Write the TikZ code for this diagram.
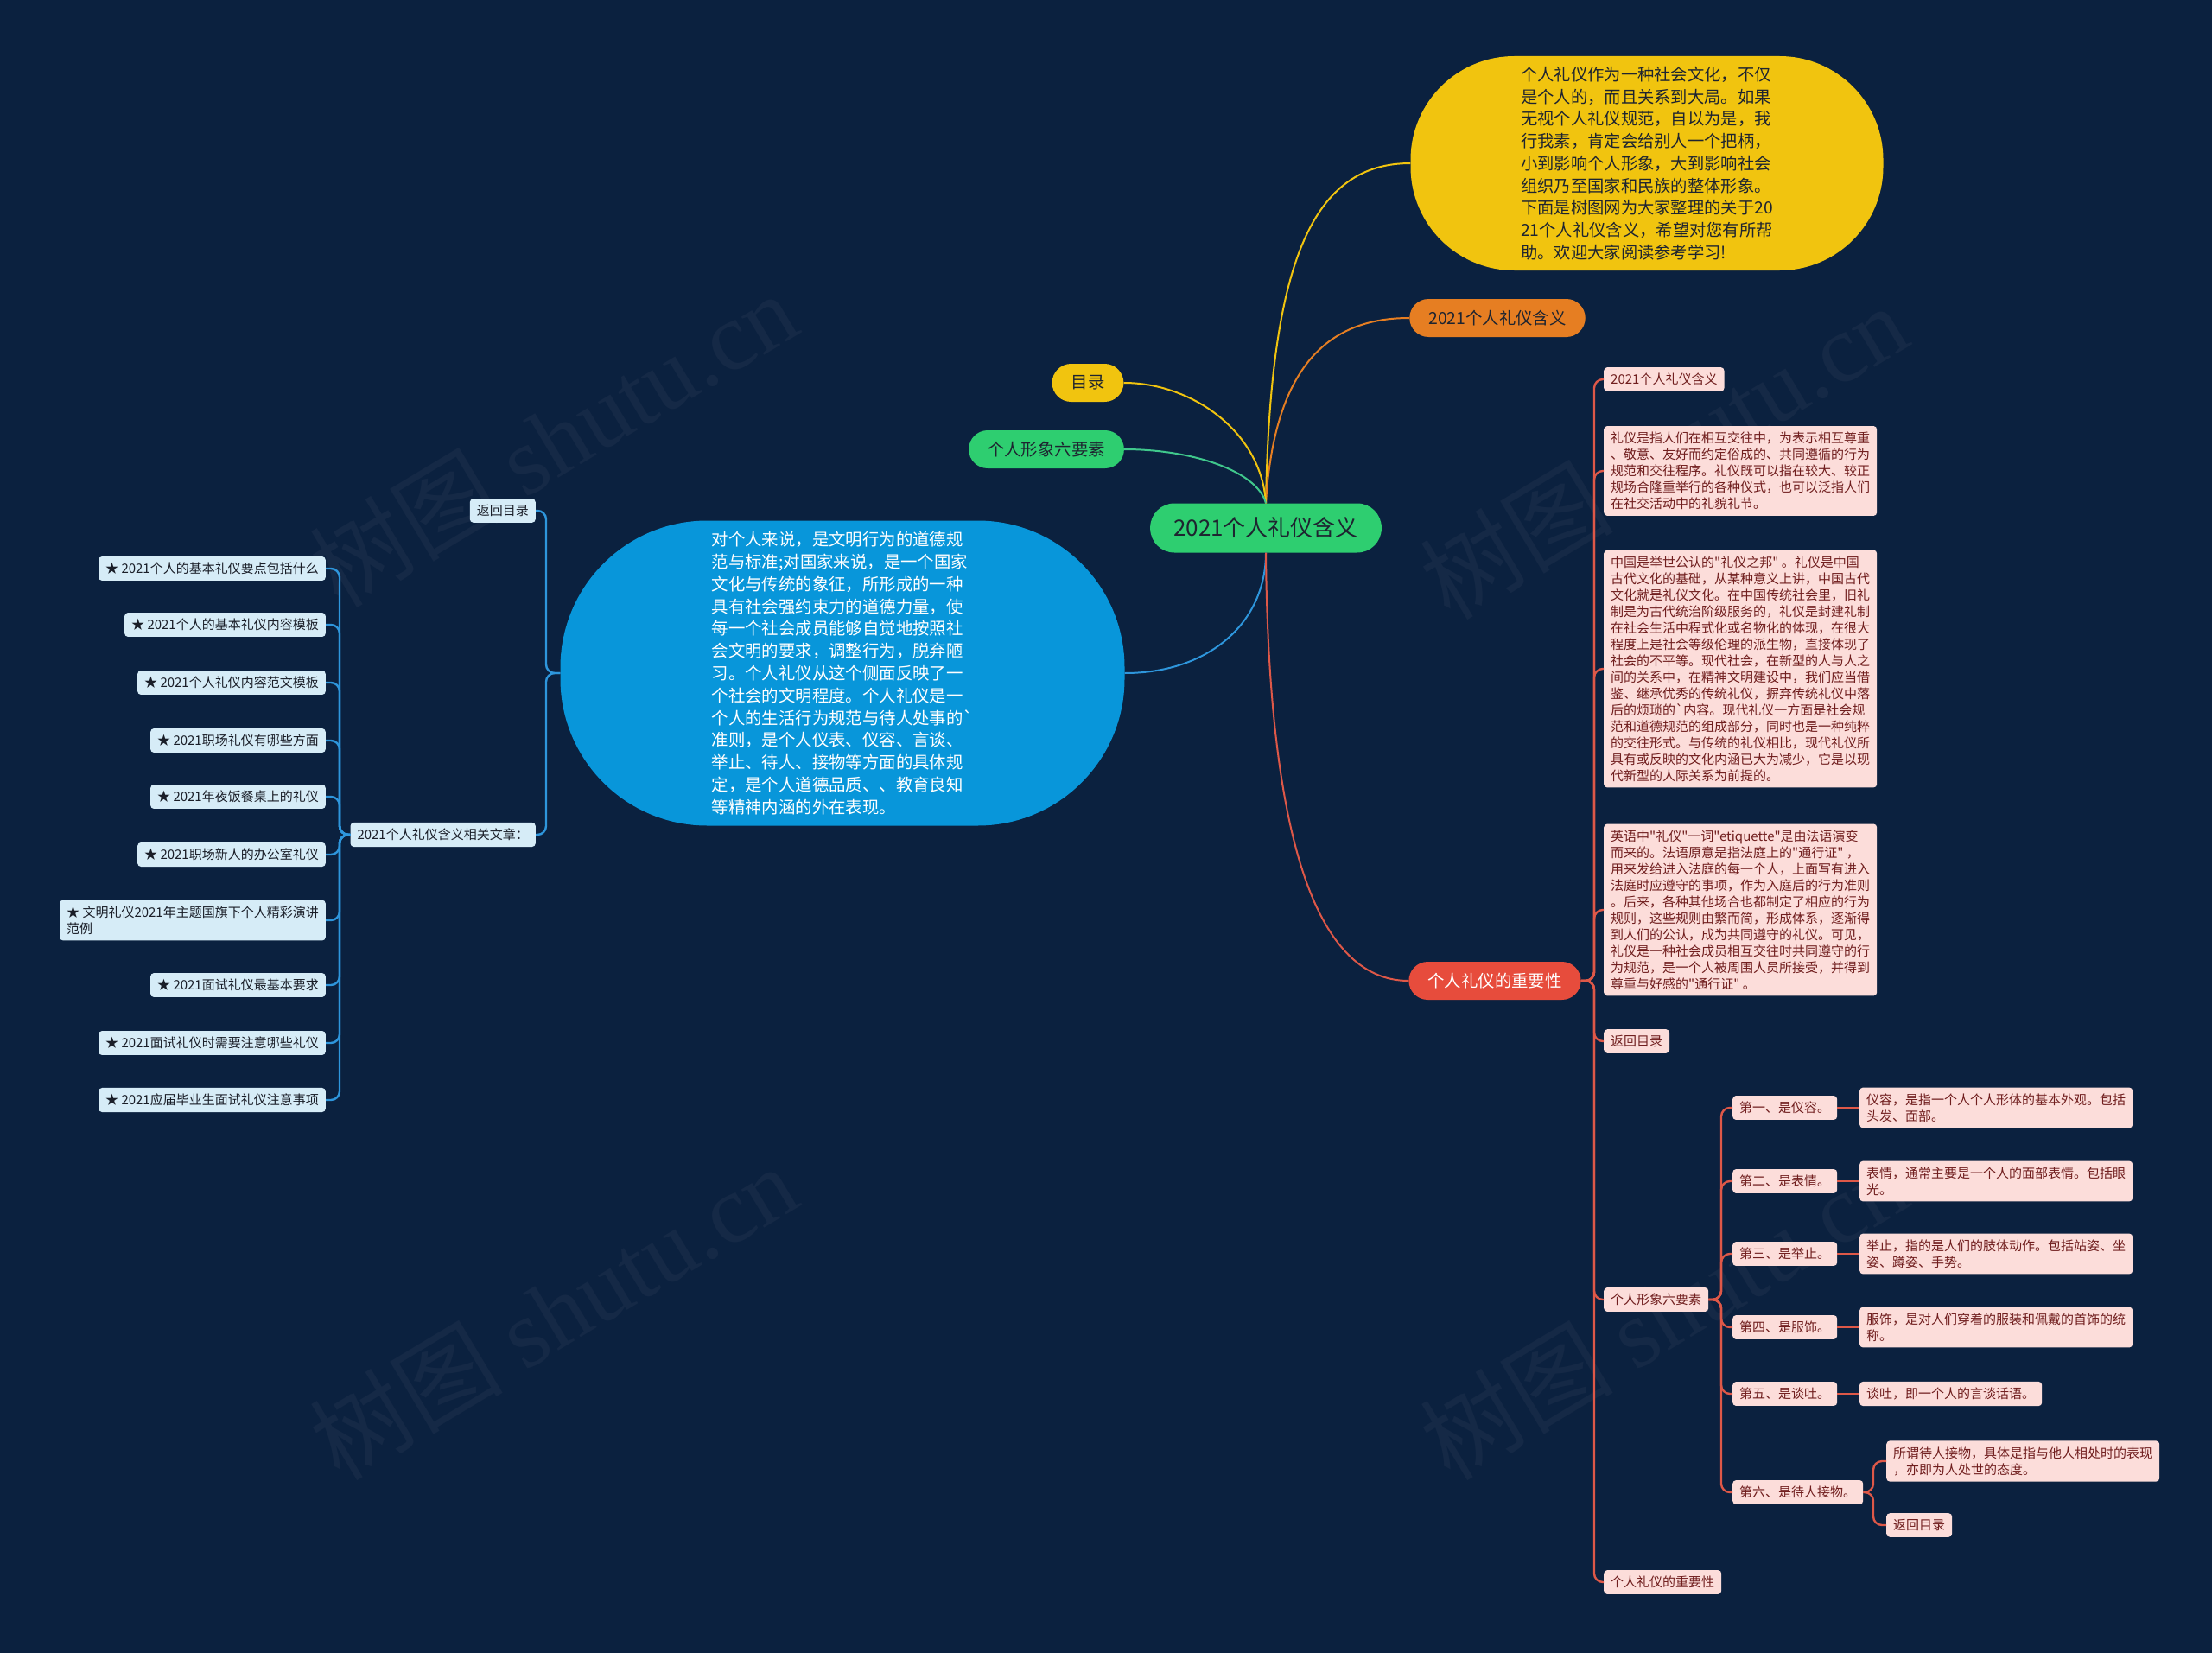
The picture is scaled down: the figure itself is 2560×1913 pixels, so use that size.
\documentclass[tikz,border=0pt]{standalone}
\usepackage{fontspec}
\newfontfamily\cjk{Noto Sans CJK SC}
\newfontfamily\wmfont{Liberation Serif}
\definecolor{bgc}{RGB}{11,33,63}
\definecolor{wmc}{RGB}{21,41,70}
\definecolor{greenc}{RGB}{46,206,112}
\definecolor{greenline}{RGB}{64,200,140}
\definecolor{yellowc}{RGB}{241,196,15}
\definecolor{orangec}{RGB}{230,126,34}
\definecolor{redc}{RGB}{231,76,60}
\definecolor{redline}{RGB}{222,88,72}
\definecolor{bluec}{RGB}{8,150,218}
\definecolor{blueline}{RGB}{46,150,220}
\definecolor{pinkc}{RGB}{252,221,218}
\definecolor{pinktext}{RGB}{112,30,30}
\definecolor{lbluec}{RGB}{214,236,247}
\definecolor{ltext}{RGB}{26,30,40}
\definecolor{darktext}{RGB}{30,36,48}
\tikzset{
  pinkbox/.style={fill=pinkc, text=pinktext, rounded corners=4pt, font=\cjk\fontsize{15}{19}\selectfont, align=left, inner xsep=8pt, inner ysep=7pt, anchor=west},
  lbox/.style={fill=lbluec, text=ltext, rounded corners=4pt, font=\cjk\fontsize{15}{19}\selectfont, align=left, inner xsep=8pt, inner ysep=7pt},
  pill/.style={rounded corners=22pt, inner xsep=22pt, inner ysep=0pt, minimum height=44pt, font=\cjk\fontsize{19.4}{24}\selectfont},
  redconn/.style={draw=redline, line width=2.4pt, rounded corners=10pt},
  blueconn/.style={draw=blueline, line width=2.4pt, rounded corners=10pt},
  mainconn/.style={line width=2pt},
  wmark/.style={text=wmc, rotate=31, font=\cjk\fontsize{112}{116}\selectfont},
}
\begin{document}
\begin{tikzpicture}[x=1pt,y=-1pt]
\useasboundingbox (0,0) rectangle (2560,1913);
\fill[bgc] (0,0) rectangle (2560,1913);

% watermarks
\node[wmark] (w1) at (640,508) {树图 {\wmfont shutu.cn}};
\node[wmark] (w2) at (1925,522) {树图 {\wmfont shutu.cn}};
\node[wmark] (w3) at (640,1518) {树图 {\wmfont shutu.cn}};
\node[wmark] (w4) at (1925,1518) {树图 {\wmfont shutu.cn}};

% central and first level
\node[fill=greenc, text=darktext, rounded corners=28pt, minimum height=57pt, inner xsep=27pt, inner ysep=0pt, font=\cjk\fontsize{26}{30}\selectfont] (c) at (1465,611) {2021个人礼仪含义};

\node[fill=yellowc, text=darktext, rounded corners=120pt, minimum width=547pt, minimum height=248pt, align=left, font=\cjk\fontsize{19.3}{25.7}\selectfont] (yb) at (1906,189) {个人礼仪作为一种社会文化，不仅\\是个人的，而且关系到大局。如果\\无视个人礼仪规范，自以为是，我\\行我素，肯定会给别人一个把柄，\\小到影响个人形象，大到影响社会\\组织乃至国家和民族的整体形象。\\下面是树图网为大家整理的关于20\\21个人礼仪含义，希望对您有所帮\\助。欢迎大家阅读参考学习!};

\node[pill, fill=orangec, text=darktext] (han) at (1733,368) {2021个人礼仪含义};
\node[pill, fill=redc, text=white] (imp) at (1730,1135) {个人礼仪的重要性};
\node[pill, fill=yellowc, text=darktext] (mulu) at (1259,443) {目录};
\node[pill, fill=greenc, text=darktext] (six0) at (1211,520) {个人形象六要素};

\node[fill=bluec, text=white, rounded corners=170pt, minimum width=653pt, minimum height=353pt, align=left, font=\cjk\fontsize{19.4}{25.8}\selectfont] (bb) at (975,779) {对个人来说，是文明行为的道德规\\范与标准;对国家来说，是一个国家\\文化与传统的象征，所形成的一种\\具有社会强约束力的道德力量，使\\每一个社会成员能够自觉地按照社\\会文明的要求，调整行为，脱弃陋\\习。个人礼仪从这个侧面反映了一\\个社会的文明程度。个人礼仪是一\\个人的生活行为规范与待人处事的`\\准则，是个人仪表、仪容、言谈、\\举止、待人、接物等方面的具体规\\定，是个人道德品质、、教育良知\\等精神内涵的外在表现。};

% main connectors
\draw[mainconn, yellowc] (c.north) .. controls (1470,300) and (1520,189) .. (yb.west);
\draw[mainconn, orangec] (c.north) .. controls (1475,420) and (1540,368) .. (han.west);
\draw[mainconn, yellowc] (c.north) .. controls (1460,500) and (1380,443) .. (mulu.east);
\draw[mainconn, greenline] (c.north) .. controls (1455,545) and (1380,520) .. (six0.east);
\draw[mainconn, blueline] (c.south) .. controls (1465,720) and (1400,779) .. (bb.east);
\draw[mainconn, redline] (c.south) .. controls (1468,960) and (1520,1135) .. (imp.west);

% right pink children
\node[pinkbox] (p1) at (1856,439) {2021个人礼仪含义};
\node[pinkbox] (p2) at (1856,545) {礼仪是指人们在相互交往中，为表示相互尊重\\、敬意、友好而约定俗成的、共同遵循的行为\\规范和交往程序。礼仪既可以指在较大、较正\\规场合隆重举行的各种仪式，也可以泛指人们\\在社交活动中的礼貌礼节。};
\node[pinkbox] (p3) at (1856,774) {中国是举世公认的"礼仪之邦" 。礼仪是中国\\古代文化的基础，从某种意义上讲，中国古代\\文化就是礼仪文化。在中国传统社会里，旧礼\\制是为古代统治阶级服务的，礼仪是封建礼制\\在社会生活中程式化或名物化的体现，在很大\\程度上是社会等级伦理的派生物，直接体现了\\社会的不平等。现代社会，在新型的人与人之\\间的关系中，在精神文明建设中，我们应当借\\鉴、继承优秀的传统礼仪，摒弃传统礼仪中落\\后的烦琐的`内容。现代礼仪一方面是社会规\\范和道德规范的组成部分，同时也是一种纯粹\\的交往形式。与传统的礼仪相比，现代礼仪所\\具有或反映的文化内涵已大为减少，它是以现\\代新型的人际关系为前提的。};
\node[pinkbox] (p4) at (1856,1053) {英语中"礼仪"一词"etiquette"是由法语演变\\而来的。法语原意是指法庭上的"通行证" ，\\用来发给进入法庭的每一个人，上面写有进入\\法庭时应遵守的事项，作为入庭后的行为准则\\。后来，各种其他场合也都制定了相应的行为\\规则，这些规则由繁而简，形成体系，逐渐得\\到人们的公认，成为共同遵守的礼仪。可见，\\礼仪是一种社会成员相互交往时共同遵守的行\\为规范，是一个人被周围人员所接受，并得到\\尊重与好感的"通行证" 。};
\node[pinkbox] (p5) at (1856,1205) {返回目录};
\node[pinkbox] (p6) at (1856,1504) {个人形象六要素};
\node[pinkbox] (p7) at (1856,1831) {个人礼仪的重要性};
\foreach \n in {p1,p2,p3,p4,p5,p6,p7}
  \draw[redconn] (imp.east) -- (1845,1135) |- (\n.west);

% six elements
\node[pinkbox] (f1) at (2005,1282) {第一、是仪容。};
\node[pinkbox] (f2) at (2005,1367) {第二、是表情。};
\node[pinkbox] (f3) at (2005,1451) {第三、是举止。};
\node[pinkbox] (f4) at (2005,1536) {第四、是服饰。};
\node[pinkbox] (f5) at (2005,1613) {第五、是谈吐。};
\node[pinkbox] (f6) at (2005,1727) {第六、是待人接物。};
\foreach \n in {f1,f2,f3,f4,f5,f6}
  \draw[redconn] (p6.east) -- (1992,1504) |- (\n.west);

\node[pinkbox] (d1) at (2152,1282) {仪容，是指一个人个人形体的基本外观。包括\\头发、面部。};
\node[pinkbox] (d2) at (2152,1367) {表情，通常主要是一个人的面部表情。包括眼\\光。};
\node[pinkbox] (d3) at (2152,1451) {举止，指的是人们的肢体动作。包括站姿、坐\\姿、蹲姿、手势。};
\node[pinkbox] (d4) at (2152,1536) {服饰，是对人们穿着的服装和佩戴的首饰的统\\称。};
\node[pinkbox] (d5) at (2152,1613) {谈吐，即一个人的言谈话语。};
\foreach \i in {1,...,5}
  \draw[redconn] (f\i.east) -- (d\i.west);

\node[pinkbox] (d6) at (2183,1691) {所谓待人接物，具体是指与他人相处时的表现\\，亦即为人处世的态度。};
\node[pinkbox] (b3) at (2183,1765) {返回目录};
\draw[redconn] (f6.east) -- (2168,1727) |- (d6.west);
\draw[redconn] (f6.east) -- (2168,1727) |- (b3.west);

% left side
\node[lbox, anchor=east] (b1) at (620,591) {返回目录};
\node[lbox, anchor=east] (rel) at (620,966) {2021个人礼仪含义相关文章：};
\draw[blueconn] (bb.west) -- (632,779) |- (b1.east);
\draw[blueconn] (bb.west) -- (632,779) |- (rel.east);

\node[lbox, anchor=east] (l1) at (377,658) {★ 2021个人的基本礼仪要点包括什么};
\node[lbox, anchor=east] (l2) at (377,723) {★ 2021个人的基本礼仪内容模板};
\node[lbox, anchor=east] (l3) at (377,790) {★ 2021个人礼仪内容范文模板};
\node[lbox, anchor=east] (l4) at (377,857) {★ 2021职场礼仪有哪些方面};
\node[lbox, anchor=east] (l5) at (377,922) {★ 2021年夜饭餐桌上的礼仪};
\node[lbox, anchor=east] (l6) at (377,989) {★ 2021职场新人的办公室礼仪};
\node[lbox, anchor=east] (l7) at (377,1065) {★ 文明礼仪2021年主题国旗下个人精彩演讲\\范例};
\node[lbox, anchor=east] (l8) at (377,1140) {★ 2021面试礼仪最基本要求};
\node[lbox, anchor=east] (l9) at (377,1207) {★ 2021面试礼仪时需要注意哪些礼仪};
\node[lbox, anchor=east] (l10) at (377,1273) {★ 2021应届毕业生面试礼仪注意事项};
\foreach \i in {1,...,10}
  \draw[blueconn] (rel.west) -- (393,966) |- (l\i.east);
\end{tikzpicture}
\end{document}
